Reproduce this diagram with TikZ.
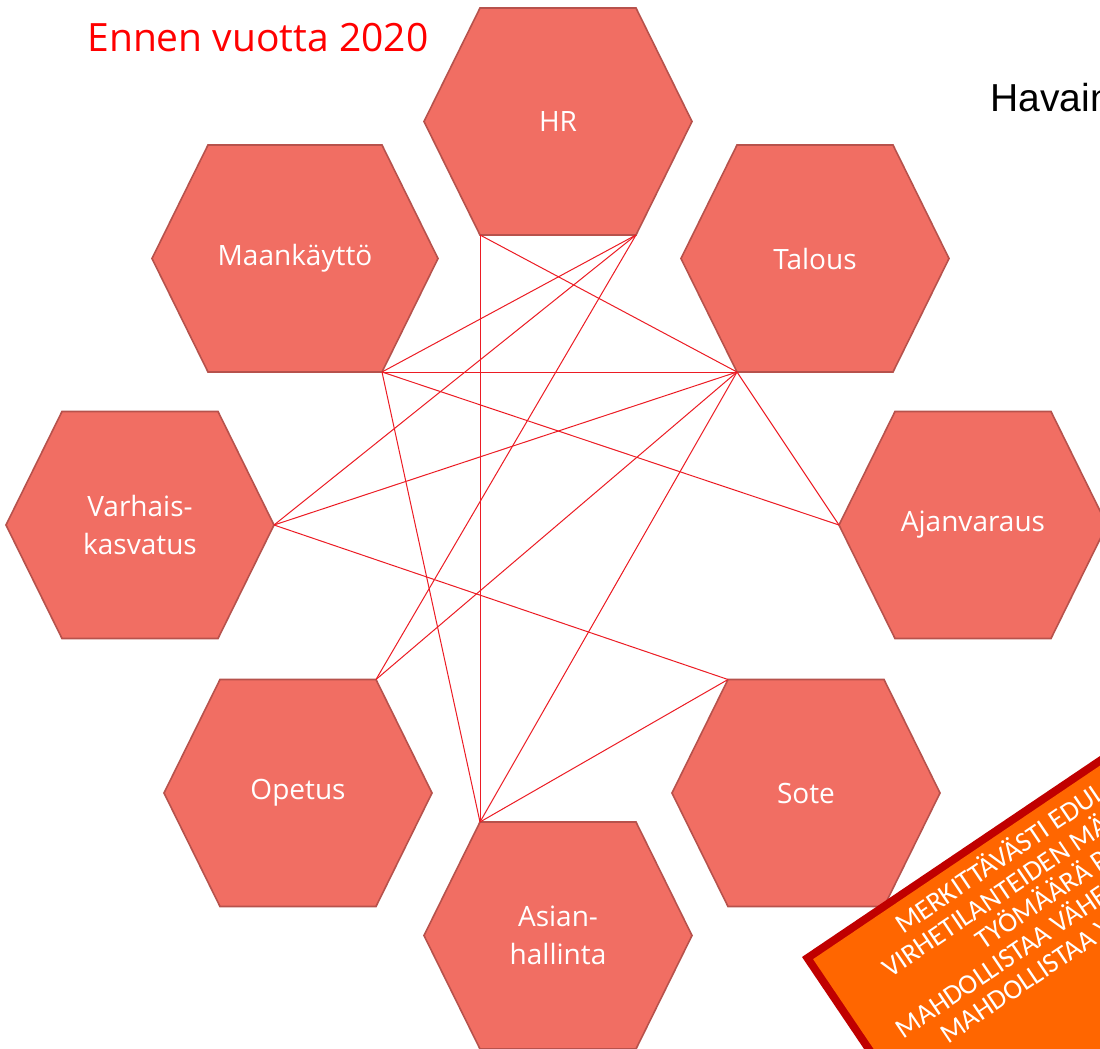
\documentclass[tikz,border=0pt]{standalone}
\usepackage{fontspec}
\usepackage{xcolor}
\usepackage{tikz}
\usetikzlibrary{backgrounds}
\newfontfamily\hexfont{Open Sans}
\newfontfamily\bannerfont{Carlito}
\newfontfamily\notefont{Liberation Sans}
\definecolor{hexfill}{RGB}{241,110,99}
\definecolor{hexedge}{RGB}{183,82,76}
\definecolor{linkred}{RGB}{236,28,36}
\definecolor{titlered}{RGB}{255,0,0}
\definecolor{bannerfill}{RGB}{255,102,0}
\definecolor{banneredge}{RGB}{192,0,0}

\begin{document}
\begin{tikzpicture}[
    x=0.5pt, y=-0.5pt,
    hexcell/.style={inner sep=0pt, outer sep=0pt, minimum width=78pt, minimum height=113.5pt, text=white, align=center, font=\hexfont\fontsize{14}{19}\selectfont},
    hexline/.style={draw=hexedge, line width=0.8pt, fill=hexfill, line join=miter},
    link/.style={draw=linkred, line width=0.5pt},
    bannertext/.style={anchor=base west, inner sep=0pt, rotate=34, text=white, font=\bannerfont\fontsize{14}{15}\selectfont},
    heading/.style={anchor=base west, inner sep=0pt, font=\fontsize{19.5}{23}\selectfont},
]
\useasboundingbox (0,0) rectangle (1100,1049);
\clip (0,0) rectangle (1100,1049);
\node[hexcell] (hr) at (558,121.5) {HR};
\node[hexcell, minimum width=87pt] (maan) at (295,258.5) {Maankäyttö};
\node[hexcell] (talous) at (815,258.5) {Talous};
\node[hexcell] (varh) at (140,525) {Varhais-\\kasvatus};
\node[hexcell] (ajan) at (973,525) {Ajanvaraus};
\node[hexcell] (opetus) at (298,793) {Opetus};
\node[hexcell] (sote) at (806,793) {Sote};
\node[hexcell] (asian) at (558,935.5) {Asian-\\hallinta};
\coordinate (varhtip) at ([xshift=28pt]varh.east);
\coordinate (ajantip) at ([xshift=-28pt]ajan.west);
\begin{scope}[on background layer]
\fill[white] (0,0) rectangle (1100,1049);
\foreach \h in {hr,maan,talous,varh,ajan,opetus,sote,asian}
  \draw[hexline] (\h.north west) -- (\h.north east) -- ([xshift=28pt]\h.east) -- (\h.south east) -- (\h.south west) -- ([xshift=-28pt]\h.west) -- cycle;
\end{scope}
% connections
\draw[link] (hr.south west) -- (talous.south west);
\draw[link] (hr.south west) -- (asian.north west);
\draw[link] (hr.south east) -- (maan.south east);
\draw[link] (hr.south east) -- (varhtip);
\draw[link] (hr.south east) -- (opetus.north east);
\draw[link] (maan.south east) -- (talous.south west);
\draw[link] (maan.south east) -- (ajantip);
\draw[link] (maan.south east) -- (asian.north west);
\draw[link] (talous.south west) -- (varhtip);
\draw[link] (talous.south west) -- (opetus.north east);
\draw[link] (talous.south west) -- (asian.north west);
\draw[link] (talous.south west) -- (ajantip);
\draw[link] (varhtip) -- (sote.north west);
\draw[link] (sote.north west) -- (asian.north west);
\node[heading, text=titlered, font=\hexfont\fontsize{19.5}{23}\selectfont] (title) at (87,51) {Ennen vuotta 2020};
\node[heading, text=black, font=\notefont\fontsize{19.5}{23}\selectfont] (note) at (990,112) {Havain};
% banner
\begin{scope}[shift={(802,957)}, rotate=34]
\fill[banneredge] (0,0) rectangle (460,300);
\fill[bannerfill] (8,8) rectangle (452,292);
\node[bannertext] (b1) at (96,38) {MERKITTÄVÄSTI EDUL};
\node[bannertext] (b2) at (61,67) {VIRHETILANTEIDEN MÄ};
\node[bannertext] (b3) at (154,96) {TYÖMÄÄRÄ P};
\node[bannertext] (b4) at (38,125) {MAHDOLLISTAA VÄHE};
\node[bannertext] (b5) at (72,154) {MAHDOLLISTAA YD};
\end{scope}
\end{tikzpicture}
\end{document}
